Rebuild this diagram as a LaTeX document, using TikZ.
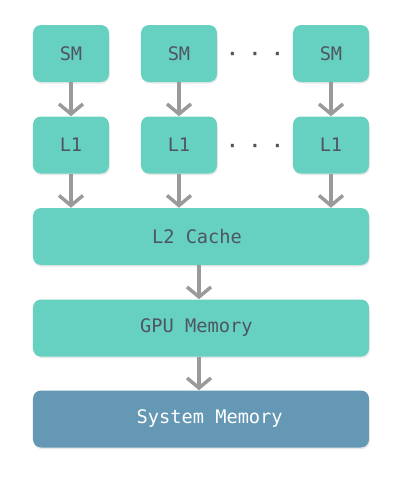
\documentclass[tikz,border=0pt]{standalone}
\usepackage{fontspec}
\newfontfamily\boxfont{DejaVu Sans Mono}
\usetikzlibrary{arrows.meta,shadows}
\definecolor{tealbox}{HTML}{66D1C1}
\definecolor{sysbox}{HTML}{6598B4}
\definecolor{boxtext}{HTML}{4F5560}
\definecolor{arrowgray}{HTML}{9A9A9A}
\begin{document}
\begin{tikzpicture}[x=0.75pt, y=0.75pt,
  box/.style={fill=tealbox, rounded corners=6pt, text=boxtext, font=\boxfont\fontsize{14pt}{16pt}\selectfont,
    inner sep=0pt, drop shadow={shadow xshift=0.6pt, shadow yshift=-1.2pt, opacity=0.18}},
  small/.style={box, minimum width=57pt, minimum height=42.75pt},
  wide/.style={box, minimum width=252pt, minimum height=42.75pt},
  link/.style={draw=arrowgray, line width=2.6pt, -{Straight Barb[length=7.5pt, width=18pt, line width=2.6pt]}},
  dots/.style={text=boxtext, font=\boxfont\bfseries\fontsize{14pt}{16pt}\selectfont}]
\useasboundingbox (0,0) rectangle (400,480);
\node[small] (sm1) at (71, 426.5) {SM};
\node[small] (sm2) at (179, 426.5) {SM};
\node[small] (sm3) at (331, 426.5) {SM};
\node[small] (l1a) at (71, 335) {L1};
\node[small] (l1b) at (179, 335) {L1};
\node[small] (l1c) at (331, 335) {L1};
\node[dots] (d1) at (255, 423.5) {· · ·};
\node[dots] (d2) at (255, 332) {· · ·};
\node[wide] (l2) at (201, 243.5) {L2 Cache\hspace*{6pt}};
\node[wide] (gpu) at (201, 152) {GPU Memory\hspace*{7pt}};
\node[wide, fill=sysbox, text=white] (sys) at (201, 61) {\hspace*{13pt}System Memory};
\draw[link] (sm1) -- (l1a);
\draw[link] (sm2) -- (l1b);
\draw[link] (sm3) -- (l1c);
\draw[link] (l1a) -- (l1a |- l2.north);
\draw[link] (l1b) -- (l1b |- l2.north);
\draw[link] (l1c) -- (l1c |- l2.north);
\draw[link] (l2.south -| 199,0) -- (gpu.north -| 199,0);
\draw[link] (gpu.south -| 199,0) -- (sys.north -| 199,0);
\end{tikzpicture}
\end{document}
